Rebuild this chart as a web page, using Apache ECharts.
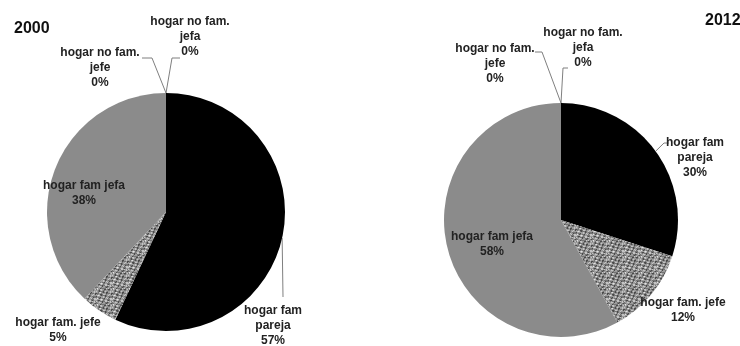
<!DOCTYPE html>
<html>
<head>
<meta charset="utf-8">
<script src="https://cdn.jsdelivr.net/npm/echarts@6/dist/echarts.min.js"></script>
<style>
html,body{margin:0;padding:0;background:#fff;}
#c{width:740px;height:346px;}
</style>
</head>
<body>
<div id="c"></div>
<script>
// ---- data ----
var categories = ['hogar fam pareja', 'hogar fam. jefe', 'hogar fam jefa', 'hogar no fam. jefe', 'hogar no fam. jefa'];
var labelTexts = ['hogar fam\npareja', 'hogar fam. jefe', 'hogar fam jefa', 'hogar no fam.\njefe', 'hogar no fam.\njefa'];
var years = ['2000', '2012'];
var values2000 = [57, 5, 38, 0, 0];
var values2012 = [30, 12, 58, 0, 0];

// ---- styling ----
function makeTexture() {
  var cv = document.createElement('canvas');
  cv.width = 16; cv.height = 16;
  var ctx = cv.getContext('2d');
  var tones = ['#4a4a4a', '#747474', '#9c9c9c', '#c4c4c4', '#e2e2e2'];
  for (var y = 0; y < 16; y++) {
    for (var x = 0; x < 16; x++) {
      var h = (x * 7919 + y * 104729 + ((x * y) % 13) * 31) % 97;
      var t = Math.floor((Math.sin(x * 1.3 + y * 0.7) + Math.cos(y * 1.9 - x * 0.5) + 2) / 4 * 3.2 + (h % 3) * 0.5);
      ctx.fillStyle = tones[Math.min(4, Math.max(0, t))];
      ctx.fillRect(x, y, 1, 1);
    }
  }
  return cv;
}
var texture = makeTexture();
var sliceColors = ['#000000', {image: texture, repeat: 'repeat'}, '#8b8b8b', '#8b8b8b', '#000000'];
var labelFont = '"Liberation Sans Narrow", "Arial Narrow", sans-serif';

// label placement (annotation positions, not marks)
var labelPos = [
  [[273, 326], [58, 330], [84, 193], [100, 68], [190, 37]],
  [[695, 158], [683, 310], [492, 244], [495, 64], [583, 48]]
];
var leaderMid = [
  [[[283, 297], [283, 297]], null, null, [[152, 58], [142, 58]], [[172, 58], [180, 58]]],
  [[[664, 143], [669, 143]], null, null, [[542, 52], [535, 52]], [[563, 68], [568, 68]]]
];
var inside = [false, false, true, false, false];

function buildData(vals) {
  return categories.map(function (c, i) {
    return {
      name: c,
      value: vals[i],
      itemStyle: {color: sliceColors[i]},
      label: {position: inside[i] ? 'inside' : 'outside'},
      labelLine: {show: !!leaderMid[0][i]}
    };
  });
}

function makeSeries(si, vals, center, radius) {
  return {
    type: 'pie',
    center: center,
    radius: radius,
    startAngle: 90,
    clockwise: true,
    avoidLabelOverlap: false,
    silent: true,
    percentPrecision: 0,
    data: buildData(vals),
    itemStyle: {borderWidth: 0},
    emphasis: {disabled: true},
    label: {
      show: true,
      color: '#222',
      fontFamily: labelFont,
      fontWeight: 'bold',
      fontSize: 12,
      lineHeight: 15,
      align: 'center',
      formatter: function (p) { return labelTexts[p.dataIndex] + '\n' + p.percent + '%'; }
    },
    labelLine: {show: true, lineStyle: {color: '#7f7f7f', width: 1}, length: 10, length2: 10},
    labelLayout: function (p) {
      var pos = labelPos[si][p.dataIndex];
      var res = {x: pos[0], y: pos[1], align: 'center', verticalAlign: 'middle'};
      var mid = leaderMid[si][p.dataIndex];
      if (mid && p.labelLinePoints) {
        res.labelLinePoints = [p.labelLinePoints[0], mid[0], mid[1]];
      }
      return res;
    }
  };
}

var chart = echarts.init(document.getElementById('c'), null, {renderer: 'canvas'});
chart.setOption({
  animation: false,
  backgroundColor: '#fff',
  title: [
    {text: years[0], left: 9, top: 16, textStyle: {fontFamily: 'Liberation Sans, sans-serif', fontWeight: 'bold', fontSize: 16, color: '#111'}},
    {text: years[1], left: 700, top: 8, textStyle: {fontFamily: 'Liberation Sans, sans-serif', fontWeight: 'bold', fontSize: 16, color: '#111'}}
  ],
  series: [
    makeSeries(0, values2000, [166, 212], 119),
    makeSeries(1, values2012, [561, 220], 117)
  ]
});
</script>
</body>
</html>
